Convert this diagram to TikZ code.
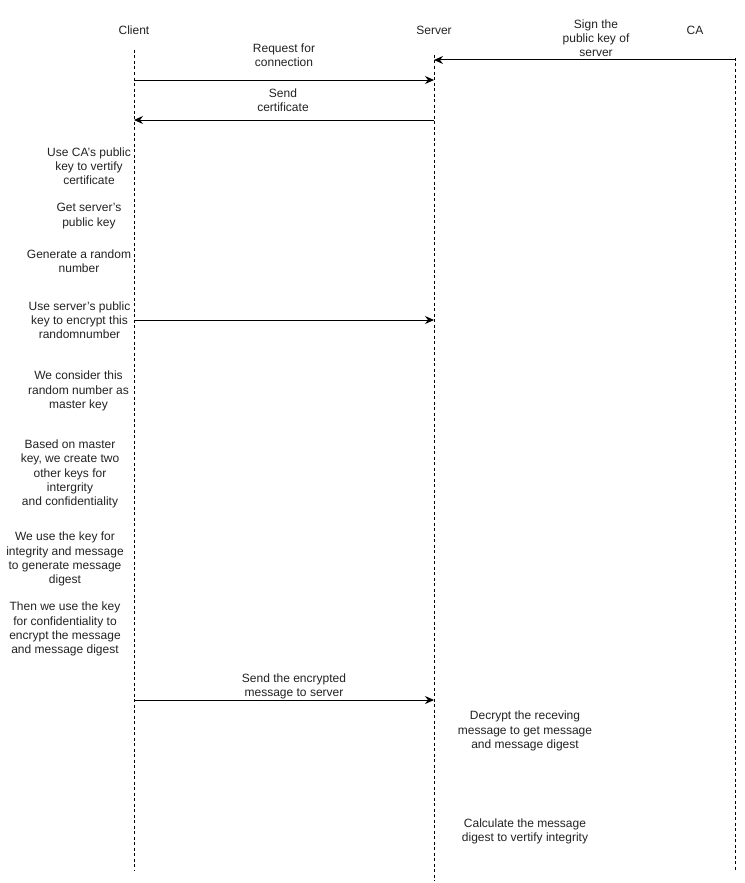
\documentclass[tikz,border=0pt]{standalone}
\usepackage{fontspec}
\setmainfont{Liberation Sans}
\usetikzlibrary{arrows.meta}
\definecolor{txt}{HTML}{222222}
\tikzset{
  lbl/.style={align=center,inner sep=0pt,text=txt,font=\fontsize{12}{14.2}\selectfont},
  life/.style={draw=black,line width=0.9pt,dash pattern=on 3pt off 2.5pt},
  msg/.style={draw=black,line width=1pt,-{Stealth[length=9pt,width=8pt,inset=3pt]}}
}
\begin{document}
\begin{tikzpicture}[x=1pt,y=-1pt]
\useasboundingbox (0,0) rectangle (744,883);
% headers
\node[lbl] (client) at (134,30) {Client};
\node[lbl] (server) at (434,30) {Server};
\node[lbl] (ca) at (695,30) {CA};
% lifelines
\coordinate (cTop) at (134,50);
\coordinate (cBot) at (134,871);
\coordinate (sTop) at (434,55);
\coordinate (sBot) at (434,881);
\coordinate (aTop) at (735,58);
\coordinate (aBot) at (735,871);
\draw[life] (cTop) -- (cBot);
\draw[life] (sTop) -- (sBot);
\draw[life] (aTop) -- (aBot);
% message anchor points
\coordinate (a1) at (735,60);  \coordinate (s1) at (434,60);
\coordinate (c2) at (134,80);  \coordinate (s2) at (434,80);
\coordinate (s3) at (434,120); \coordinate (c3) at (134,120);
\coordinate (c4) at (134,320); \coordinate (s4) at (434,320);
\coordinate (c5) at (134,700); \coordinate (s5) at (434,700);
\draw[msg] (a1) -- (s1);
\draw[msg] (c2) -- (s2);
\draw[msg] (s3) -- (c3);
\draw[msg] (c4) -- (s4);
\draw[msg] (c5) -- (s5);
% message labels
\node[lbl] (sign) at (596,38) {Sign the\\public key of\\server};
\node[lbl] (req) at (284,55) {Request for\\connection};
\node[lbl] (cert) at (283,100) {Send\\certificate};
\node[lbl] (sendenc) at (294,686) {Send the encrypted\\message to server};
% client notes
\node[lbl] (n1) at (89,166) {Use CA's public\\key to vertify\\certificate};
\node[lbl] (n2) at (89,216) {Get server's\\public key};
\node[lbl] (n3) at (79,261) {Generate a random\\number};
\node[lbl] (n4) at (79.5,320) {Use server's public\\key to encrypt this\\randomnumber};
\node[lbl] (n5) at (78.5,391) {We consider this\\random number as\\master key};
\node[lbl] (n6) at (70,474) {Based on master\\key, we create two\\other keys for\\intergrity\\and confidentiality};
\node[lbl] (n7) at (65,559) {We use the key for\\integrity and message\\to generate message\\digest};
\node[lbl] (n8) at (65,629) {Then we use the key\\for confidentiality to\\encrypt the message\\and message digest};
% server notes
\node[lbl] (m1) at (525,731) {Decrypt the receving\\message to get message\\and message digest};
\node[lbl] (m2) at (525,831) {Calculate the message\\digest to vertify integrity};
\end{tikzpicture}
\end{document}
